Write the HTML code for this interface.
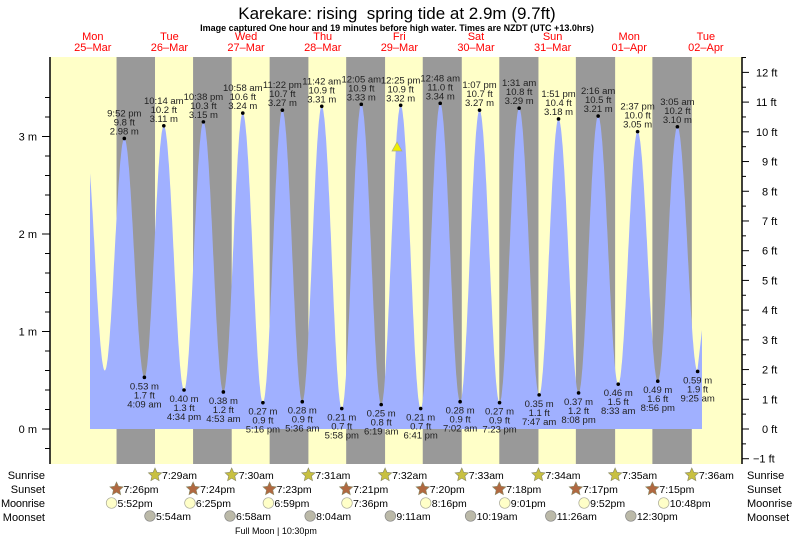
<!DOCTYPE html>
<html><head><meta charset="utf-8"><style>
body{margin:0;background:#fff}
svg{display:block;font-family:"Liberation Sans",sans-serif}
</style></head><body>
<svg id="s" width="793" height="538" xmlns="http://www.w3.org/2000/svg"></svg>
<script>
const S=document.getElementById('s');let h='';
const X=t=>54.5+3.193*t, Y=m=>429-97.5*m;
const L=50,R=742,T=57,B=464;
h+=`<text x="397" y="19" font-size="17" text-anchor="middle" style="white-space:pre">Karekare: rising  spring tide at 2.9m (9.7ft)</text>`;
h+=`<text x="397" y="31" font-size="9" font-weight="bold" text-anchor="middle">Image captured One hour and 19 minutes before high water. Times are NZDT (UTC +13.0hrs)</text>`;
const days=[['Mon','25–Mar'],['Tue','26–Mar'],['Wed','27–Mar'],['Thu','28–Mar'],['Fri','29–Mar'],['Sat','30–Mar'],['Sun','31–Mar'],['Mon','01–Apr'],['Tue','02–Apr']];
days.forEach((d,i)=>{const x=X(i*24+12);h+=`<text x="${x}" y="40" font-size="11" fill="#f00" text-anchor="middle">${d[0]}</text><text x="${x}" y="51" font-size="11" fill="#f00" text-anchor="middle">${d[1]}</text>`;});
h+=`<rect x="${L}" y="${T}" width="${R-L}" height="${B-T}" fill="#ffffc8"/>`;
const ss=[19.43,19.4,19.38,19.35,19.33,19.3,19.28,19.25],sr=[7.48,7.5,7.52,7.53,7.55,7.57,7.58,7.6];
for(let i=0;i<8;i++){const a=X(i*24+ss[i]),b=X((i+1)*24+sr[i]);h+=`<rect x="${a}" y="${T}" width="${b-a}" height="${B-T}" fill="#999"/>`;}
const tm=s=>{let[a,b]=s.split(':');let hh=+a%12,mm=parseInt(b);if(/pm/.test(s))hh+=12;return hh+mm/60;};
const ex=[[0,'9:30am',3.0,0],[0,'3:45pm',0.6,0],[0,'9:52 pm',2.98,1],[1,'4:09 am',.53,1],[1,'10:14 am',3.11,1],[1,'4:34 pm',.40,1],[1,'10:38 pm',3.15,1],
[2,'4:53 am',.38,1],[2,'10:58 am',3.24,1],[2,'5:16 pm',.27,1],[2,'11:22 pm',3.27,1],[3,'5:36 am',.28,1],[3,'11:42 am',3.31,1],[3,'5:58 pm',.21,1],
[4,'12:05 am',3.33,1],[4,'6:19 am',.25,1],[4,'12:25 pm',3.32,1],[4,'6:41 pm',.21,1],[5,'12:48 am',3.34,1],[5,'7:02 am',.28,1],[5,'1:07 pm',3.27,1],[5,'7:23 pm',.27,1],
[6,'1:31 am',3.29,1],[6,'7:47 am',.35,1],[6,'1:51 pm',3.18,1],[6,'8:08 pm',.37,1],[7,'2:16 am',3.21,1],[7,'8:33 am',.46,1],[7,'2:37 pm',3.05,1],[7,'8:56 pm',.49,1],
[8,'3:05 am',3.10,1],[8,'9:25 am',.59,1],[8,'3:40pm',3.0,0]];
ex.forEach(e=>e.t=e[0]*24+tm(e[1]));
const val=t=>{for(let i=0;i<ex.length-1;i++){const a=ex[i],b=ex[i+1];if(t>=a.t&&t<=b.t){const f=(t-a.t)/(b.t-a.t);return b[2]+(a[2]-b[2])*(1+Math.cos(Math.PI*f))/2;}}return 1;};
const t0=(90-54.5)/3.193,t1=(702-54.5)/3.193;
let p=`M${X(t0)},${Y(0)}`;for(let t=t0;t<=t1-1.4;t+=0.1)p+=` L${X(t).toFixed(1)},${Y(val(t)).toFixed(1)}`;
p+=` L702,330 L702,${Y(0)} Z`;
h+=`<path d="${p}" fill="#a0b0ff"/>`;
ex.forEach(e=>{if(!e[3])return;const x=X(e.t),y=Y(e[2]);const ft=(e[2]*3.28084).toFixed(1)+' ft',m=e[2].toFixed(2)+' m';
h+=`<circle cx="${x}" cy="${y}" r="1.8"/>`;
const hi=e[2]>1;const ys=hi?[y-22,y-13,y-4]:[y+12,y+21,y+30];const tx=hi?[e[1],ft,m]:[m,ft,e[1]];
tx.forEach((s,k)=>h+=`<text x="${x}" y="${ys[k]}" font-size="9.5" fill="#222" text-anchor="middle">${s}</text>`);});
h+=`<polygon points="392,151 402,151 397,142" fill="#ee0" stroke="#aa8" stroke-width=".7"/>`;
h+=`<line x1="${L}" y1="${T}" x2="${L}" y2="${B}" stroke="#000" stroke-width="1.5"/><line x1="${R}" y1="${T}" x2="${R}" y2="${B}" stroke="#000" stroke-width="1.5"/>`;
for(let k=-1;k<=17;k++){const y=Y(k*0.2);if(y<T||y>B)continue;const maj=k%5==0;h+=`<line x1="${maj?42:45}" y1="${y}" x2="${L}" y2="${y}" stroke="#000"/>`;if(maj)h+=`<text x="37" y="${y+4}" font-size="11" text-anchor="end">${k/5} m</text>`;}
for(let k=-2;k<=25;k++){const y=Y(k*0.5*0.3048);if(y<T||y>B)continue;const maj=k%2==0;h+=`<line x1="${R}" y1="${y}" x2="${R+(maj?7:4)}" y2="${y}" stroke="#000"/>`;if(maj)h+=`<text x="${k/2<0?753:(k/2>=10?756:762)}" y="${y+4}" font-size="11">${k/2<0?'−1':k/2} ft</text>`;}
const rows=[['Sunrise',475],['Sunset',489],['Moonrise',503],['Moonset',517]];
rows.forEach(r=>{h+=`<text x="45" y="${r[1]+4}" font-size="11" text-anchor="end" textLength="${r[0]=='Moonrise'?44:0}" ${r[0]=='Moonrise'?'':''}>${r[0]}</text><text x="747" y="${r[1]+4}" font-size="11">${r[0]}</text>`;});
const star=(x,y,c)=>{let q='';for(let i=0;i<10;i++){const a=-Math.PI/2+i*Math.PI/5,r=i%2?3.3:7;q+=`${(x+r*Math.cos(a)).toFixed(1)},${(y+r*Math.sin(a)).toFixed(1)} `;}return `<polygon points="${q}" fill="${c}" stroke="#886" stroke-width=".6"/>`;};
const srT=['7:29am','7:30am','7:31am','7:32am','7:33am','7:34am','7:35am','7:36am'];
srT.forEach((s,i)=>{const x=X((i+1)*24+sr[i]);h+=star(x,475,'#c8c040')+`<text x="${x+7}" y="479" font-size="10.5">${s}</text>`;});
const ssT=['7:26pm','7:24pm','7:23pm','7:21pm','7:20pm','7:18pm','7:17pm','7:15pm'];
ssT.forEach((s,i)=>{const x=X(i*24+ss[i]);h+=star(x,489,'#b06840')+`<text x="${x+7}" y="493" font-size="10.5">${s}</text>`;});
['5:52pm','6:25pm','6:59pm','7:36pm','8:16pm','9:01pm','9:52pm','10:48pm'].forEach((s,i)=>{const x=X(i*24+tm(s));h+=`<circle cx="${x}" cy="503" r="5.3" fill="#ffffc8" stroke="#aa9" stroke-width=".7"/><text x="${x+6}" y="507" font-size="10.5">${s}</text>`;});
['5:54am','6:58am','8:04am','9:11am','10:19am','11:26am','12:30pm'].forEach((s,i)=>{const x=X((i+1)*24+tm(s));h+=`<circle cx="${x}" cy="516" r="5.3" fill="#bbb9a8" stroke="#888" stroke-width=".7"/><text x="${x+6}" y="520" font-size="10.5">${s}</text>`;});
h+=`<text x="235" y="534" font-size="9">Full Moon | 10:30pm</text>`;
S.innerHTML=h.replace(/ textLength="0"/g,'');
</script>
</body></html>
